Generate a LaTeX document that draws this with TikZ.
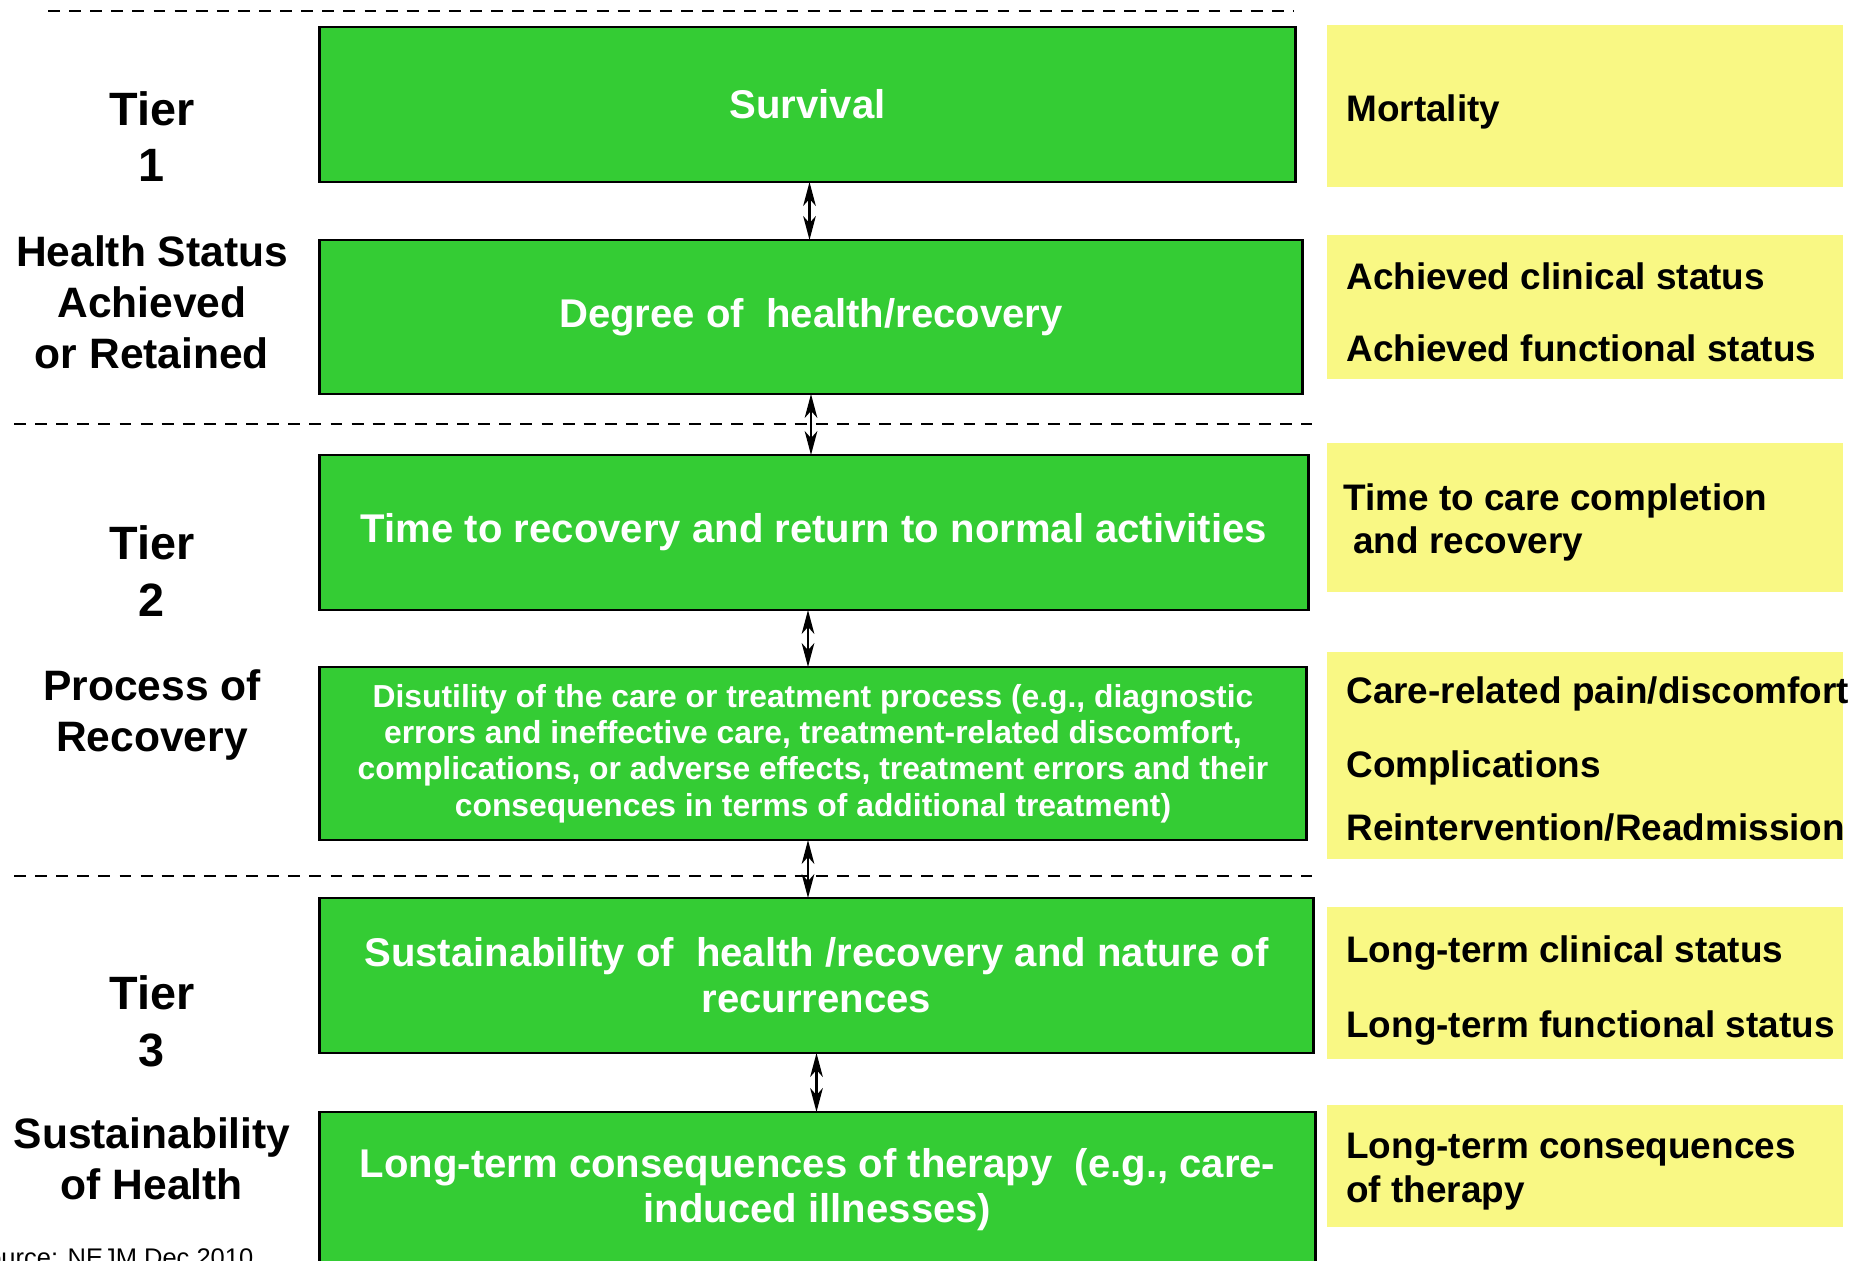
\documentclass[tikz,border=0pt]{standalone}
\usepackage{fontspec}
\setmainfont{Liberation Sans}
\usepackage{tikz}
\usetikzlibrary{arrows.meta}
\definecolor{tgreen}{HTML}{34CC34}
\definecolor{tyellow}{HTML}{F9F884}
\tikzset{every picture/.style={line width=0.75pt}}
\tikzset{
  gbox/.style={draw=black, line width=0.8pt, fill=tgreen, text=white, inner sep=0pt, outer sep=0pt, align=center, font=\bfseries\fontsize{11.4}{13.1}\selectfont},
  ybox/.style={fill=tyellow, inner sep=0pt, outer sep=0pt, minimum width=5.16cm},
  tierlab/.style={anchor=base, inner sep=0pt, font=\bfseries\fontsize{13.3}{15}\selectfont},
  sidelab/.style={anchor=base, inner sep=0pt, font=\bfseries\fontsize{12.1}{14}\selectfont},
  outlab/.style={anchor=base west, inner sep=0pt, font=\bfseries\fontsize{10.5}{12}\selectfont},
  sep/.style={line width=0.6pt, dash pattern=on 3.4pt off 2.6pt},
  twoway/.style={{Stealth[length=6.8pt,width=3.6pt,inset=2pt]}-{Stealth[length=6.8pt,width=3.6pt,inset=2pt]}, line width=0.6pt}
}
\begin{document}
\begin{tikzpicture}[x=0.01cm,y=-0.01cm]
\useasboundingbox (0,0) rectangle (1858,1261);
\clip (0,0) rectangle (1858,1261);
% green boxes
\node[gbox, minimum width=9.75cm, minimum height=1.55cm] (b1) at (807.5,104.5) {Survival};
\node[gbox, minimum width=9.82cm, minimum height=1.54cm] (b2) at (811,317) {Degree of~ health/recovery};
\node[gbox, minimum width=9.88cm, minimum height=1.55cm] (b3) at (814,532.5) {Time to recovery and return to normal activities};
\node[gbox, minimum width=9.86cm, minimum height=1.73cm, font=\bfseries\fontsize{9.05}{10.3}\selectfont] (b4) at (813,753.5)
  {Disutility of the care or treatment process (e.g., diagnostic\\ errors and ineffective care, treatment-related discomfort,\\ complications, or adverse effects, treatment errors and their\\ consequences in terms of additional treatment)};
\node[gbox, minimum width=9.93cm, minimum height=1.55cm] (b5) at (816.5,975.5) {Sustainability of~ health /recovery and nature of\\ recurrences};
\node[gbox, minimum width=9.95cm, minimum height=1.55cm, font=\bfseries\fontsize{11.4}{12.8}\selectfont] (b6) at (817.5,1189.5) {Long-term consequences of therapy~ (e.g., care-\\ induced illnesses)};
%
\draw[twoway] ([xshift=0.02cm]b1.south) -- ([xshift=0.02cm]b1.south |- b2.north);
\draw[twoway] (b2.south) -- (b2.south |- b3.north);
\draw[twoway] ([xshift=-0.06cm]b3.south) -- ([xshift=-0.06cm]b3.south |- b4.north);
\draw[twoway] ([xshift=-0.05cm]b4.south) -- ([xshift=-0.05cm]b4.south |- b5.north);
\draw[twoway] (b5.south) -- (b5.south |- b6.north);
%
\draw[sep] (48,11) -- (1294,11);
\draw[sep] (14,424) -- (1312,424);
\draw[sep] (14,876) -- (1312,876);
% yellow boxes
\node[ybox, minimum height=1.62cm] (y1) at (1585,106) {};
\node[ybox, minimum height=1.44cm] (y2) at (1585,307) {};
\node[ybox, minimum height=1.49cm] (y3) at (1585,517.5) {};
\node[ybox, minimum height=2.07cm] (y4) at (1585,755.5) {};
\node[ybox, minimum height=1.52cm] (y5) at (1585,983) {};
\node[ybox, minimum height=1.22cm] (y6) at (1585,1166) {};
%
\node[outlab] (o1) at (1345,122) {Mortality};
\node[outlab] (o2) at (1345,290) {Achieved clinical status};
\node[outlab] (o3) at (1345,362) {Achieved functional status};
\node[outlab] (o4) at (1342,510) {Time to care completion};
\node[outlab] (o5) at (1352,553) {and recovery};
\node[outlab] (o6) at (1345,703) {Care-related pain/discomfort};
\node[outlab] (o7) at (1345,777) {Complications};
\node[outlab] (o8) at (1345,840) {Reintervention/Readmission};
\node[outlab] (o9) at (1345,962) {Long-term clinical status};
\node[outlab] (o10) at (1345,1037) {Long-term functional status};
\node[outlab] (o11) at (1345,1158) {Long-term consequences};
\node[outlab] (o12) at (1345,1202) {of therapy};
% left column
\node[tierlab] (t1) at (152,126) {Tier};
\node[tierlab] (n1) at (152,182) {1};
\node[sidelab] (h1) at (152,267) {Health Status};
\node[sidelab] (h2) at (152,318) {Achieved};
\node[sidelab] (h3) at (152,369) {or Retained};
\node[tierlab] (t2) at (152,559) {Tier};
\node[tierlab] (n2) at (152,616) {2};
\node[sidelab] (p1) at (152,700) {Process of};
\node[sidelab] (p2) at (152,751) {Recovery};
\node[tierlab] (t3) at (152,1009) {Tier};
\node[tierlab] (n3) at (152,1066) {3};
\node[sidelab] (s1) at (152,1148) {Sustainability};
\node[sidelab] (s2) at (152,1199) {of Health};
%
\node[anchor=base west, inner sep=0pt, font=\fontsize{7.25}{9}\selectfont] (src) at (-31,1266) {Source: NEJM Dec 2010};
\end{tikzpicture}
\end{document}
